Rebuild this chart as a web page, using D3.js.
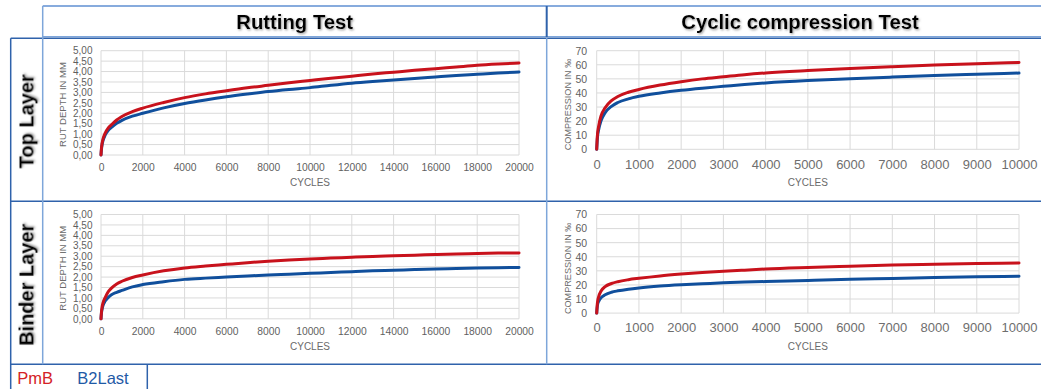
<!DOCTYPE html>
<html>
<head>
<meta charset="utf-8">
<script src="https://cdn.jsdelivr.net/npm/d3@7"></script>
<style>
  body { margin: 0; background: #fff; }
  svg { display: block; }
  text { font-family: "Liberation Sans", Arial, sans-serif; }
</style>
</head>
<body>
<svg id="chart" width="1041" height="389"></svg>
<script>
// ---- data ---------------------------------------------------------------
const columnTitles = ["Rutting Test", "Cyclic compression Test"];
const rowTitles = ["Top Layer", "Binder Layer"];
const seriesNames = ["PmB", "B2Last"];

// rutting test: rut depth (mm) over load cycles
const rutCycles = [0, 20, 50, 100, 200, 350, 500, 750, 1000, 1500,
  2000, 3000, 4000, 5000, 6000, 7000, 8000, 9000, 10000, 11000,
  12000, 13000, 14000, 15000, 16000, 17000, 18000, 19000, 20000];
const rutTopPmB = [0, 0.30, 0.55, 0.78, 1.05, 1.30, 1.45, 1.68, 1.85, 2.08,
  2.25, 2.52, 2.75, 2.93, 3.08, 3.22, 3.34, 3.46, 3.57, 3.68,
  3.78, 3.88, 3.97, 4.06, 4.14, 4.22, 4.30, 4.36, 4.41];
const rutTopB2Last = [0, 0.25, 0.48, 0.70, 0.95, 1.18, 1.32, 1.52, 1.66, 1.86,
  2.00, 2.26, 2.47, 2.64, 2.79, 2.92, 3.04, 3.14, 3.23, 3.34,
  3.44, 3.52, 3.59, 3.67, 3.74, 3.81, 3.87, 3.93, 3.98];
const rutBinderPmB = [0, 0.30, 0.55, 0.78, 1.02, 1.30, 1.47, 1.67, 1.80, 1.98,
  2.10, 2.30, 2.44, 2.53, 2.61, 2.69, 2.76, 2.82, 2.87, 2.91,
  2.95, 2.99, 3.02, 3.05, 3.08, 3.11, 3.13, 3.15, 3.16];
const rutBinderB2Last = [0, 0.25, 0.45, 0.65, 0.85, 1.03, 1.15, 1.27, 1.36, 1.53,
  1.64, 1.78, 1.89, 1.95, 2.00, 2.05, 2.10, 2.14, 2.18, 2.22,
  2.26, 2.30, 2.33, 2.36, 2.39, 2.41, 2.43, 2.45, 2.46];

// cyclic compression test: compression (‰) over load cycles
const compCycles = [0, 10, 20, 50, 100, 200, 350, 500, 750, 1000, 1500,
  2000, 2500, 3000, 3500, 4000, 5000, 6000, 7000, 8000, 9000, 10000];
const compTopPmB = [0, 7, 11, 17, 23.5, 29.5, 34.5, 37.5, 40.5, 42.5, 45.6,
  48.0, 50.0, 51.5, 53.0, 54.2, 55.9, 57.3, 58.6, 59.8, 60.8, 61.6];
const compTopB2Last = [0, 5, 9, 14.5, 20, 26, 30.5, 33.2, 35.8, 37.6, 40.0,
  41.9, 43.4, 44.7, 46.0, 47.1, 48.8, 50.1, 51.3, 52.4, 53.3, 54.1];
const compBinderPmB = [0, 5, 8, 12, 15.5, 18.8, 21.0, 22.3, 23.7, 24.7, 26.4,
  27.7, 28.8, 29.7, 30.5, 31.3, 32.4, 33.3, 34.1, 34.7, 35.2, 35.6];
const compBinderB2Last = [0, 3.5, 6, 8.5, 10.8, 13.0, 14.8, 15.8, 17.0, 17.9, 19.2,
  20.1, 20.8, 21.5, 22.0, 22.4, 23.2, 24.0, 24.6, 25.2, 25.8, 26.2];

// axis ticks
const rutXTicks = [0, 2000, 4000, 6000, 8000, 10000, 12000, 14000, 16000, 18000, 20000];
const rutYTicks = [0, 0.5, 1, 1.5, 2, 2.5, 3, 3.5, 4, 4.5, 5];
const compXTicks = [0, 1000, 2000, 3000, 4000, 5000, 6000, 7000, 8000, 9000, 10000];
const compYTicks = [0, 10, 20, 30, 40, 50, 60, 70];

// ---- styling --------------------------------------------------------------
const colors = { PmB: "#c8121c", B2Last: "#104f9c" };
const tickColor = "#5f5f5f";
const gridColor = "#dadada";
const deLocale = d3.formatLocale({ decimal: ",", thousands: "", grouping: [3], currency: ["", "€"] });
const fmt2 = deLocale.format(".2f");

const svg = d3.select("#chart");

const defs = svg.append("defs");
const glow = defs.append("filter").attr("id", "headShadow")
  .attr("x", "-10%").attr("y", "-30%").attr("width", "120%").attr("height", "160%");
glow.append("feDropShadow").attr("dx", 1).attr("dy", 1.2)
  .attr("stdDeviation", 1.1).attr("flood-color", "#7a7a7a").attr("flood-opacity", 0.75);

// ---- table frame ----------------------------------------------------------
const rowTops = [37.5, 201.3];
const tableBottom = 364.3;
const colX = [42.7, 546.7];
const frame = svg.append("g").attr("fill", "none");
function seg(x1, y1, x2, y2, c, w) {
  frame.append("line").attr("x1", x1).attr("y1", y1).attr("x2", x2).attr("y2", y2)
    .attr("stroke", c).attr("stroke-width", w);
}
const dark = "#2f62ab", light = "#7ea6da";
seg(colX[0], 6, 1041, 6, "#5f8fd2", 1.5);
seg(colX[0], 36.6, 1041, 36.6, light, 1.2);
seg(10.7, 38.3, 1041, 38.3, dark, 1.5);
seg(10.7, rowTops[1], 1041, rowTops[1], dark, 1.5);
seg(10.7, tableBottom, 1041, tableBottom, dark, 1.5);
seg(10.7, 38.3, 10.7, 389, dark, 1.5);
seg(colX[0], 6, colX[0], tableBottom, light, 1.5);
seg(colX[1], 6, colX[1], 37, dark, 2);
seg(colX[1], 38, colX[1], tableBottom, light, 1.5);
seg(147.3, tableBottom, 147.3, 389, dark, 1.5);

// column headings
const headX = [294.7, 800];
columnTitles.forEach((t, i) => {
  svg.append("text").attr("x", headX[i]).attr("y", 28.5)
    .attr("text-anchor", "middle").attr("font-size", 20.3).attr("font-weight", "bold")
    .attr("fill", "#000").attr("filter", "url(#headShadow)").text(t);
});

// row headings
rowTitles.forEach((t, i) => {
  const cy = (rowTops[i] + (i === 0 ? rowTops[1] : tableBottom)) / 2 + 2;
  svg.append("text").attr("transform", `translate(33.5,${cy}) rotate(-90)`)
    .attr("text-anchor", "middle").attr("font-size", 20).attr("font-weight", "bold")
    .attr("fill", "#000").attr("filter", "url(#headShadow)").text(t);
});

// legend
svg.append("text").attr("x", 17.3).attr("y", 383.5).attr("font-size", 16.5)
  .attr("fill", "#d42226").text(seriesNames[0]);
svg.append("text").attr("x", 77.3).attr("y", 383.5).attr("font-size", 16.5)
  .attr("fill", "#1f5aa6").text(seriesNames[1]);

// ---- chart panels ---------------------------------------------------------
function drawPanel(o) {
  const g = svg.append("g");
  const x = d3.scaleLinear().domain([o.xTicks[0], o.xTicks[o.xTicks.length - 1]]).range(o.xRange);
  const y = d3.scaleLinear().domain([o.yTicks[0], o.yTicks[o.yTicks.length - 1]]).range(o.yRange);

  // gridlines
  g.append("g").selectAll("line").data(o.yTicks).join("line")
    .attr("x1", o.xRange[0]).attr("x2", o.xRange[1])
    .attr("y1", d => y(d)).attr("y2", d => y(d))
    .attr("stroke", gridColor).attr("stroke-width", 1);
  g.append("g").selectAll("line").data(o.xTicks).join("line")
    .attr("y1", o.yRange[0]).attr("y2", o.yRange[1])
    .attr("x1", d => x(d)).attr("x2", d => x(d))
    .attr("stroke", gridColor).attr("stroke-width", 1);

  // axes (labels only)
  const ax = g.append("g").attr("transform", `translate(0,${o.yRange[0]})`)
    .call(d3.axisBottom(x).tickValues(o.xTicks).tickSize(0).tickPadding(o.xPad).tickFormat(d3.format("d")));
  ax.select(".domain").remove();
  ax.selectAll("text").attr("font-size", o.xFont).attr("fill", o.xColor)
    .attr("font-family", "\"Liberation Sans\", Arial, sans-serif");

  const ay = g.append("g").attr("transform", `translate(${o.xRange[0]},0)`)
    .call(d3.axisLeft(y).tickValues(o.yTicks).tickSize(0).tickPadding(o.yPad).tickFormat(o.yFmt));
  ay.select(".domain").remove();
  ay.selectAll("text").attr("font-size", o.yFont).attr("fill", tickColor)
    .attr("font-family", "\"Liberation Sans\", Arial, sans-serif");

  // axis titles
  g.append("text").attr("x", (o.xRange[0] + o.xRange[1]) / 2).attr("y", o.top + 148.5)
    .attr("text-anchor", "middle").attr("font-size", 10).attr("fill", "#6a6a6a").text("CYCLES");
  g.append("text").attr("transform", `translate(${o.yTitleX},${o.top + 67}) rotate(-90)`)
    .attr("text-anchor", "middle").attr("font-size", o.yTitleFont).attr("fill", "#6a6a6a").text(o.yTitle);

  // series
  const line = d3.line().x(d => x(d[0])).y(d => y(d[1])).curve(d3.curveMonotoneX);
  o.series.forEach(s => {
    g.append("path").datum(o.cycles.map((c, i) => [c, s.values[i]]))
      .attr("d", line).attr("fill", "none").attr("stroke", colors[s.name])
      .attr("stroke-width", 3).attr("stroke-linejoin", "round").attr("stroke-linecap", "round");
  });
}

const panels = [
  { row: 0, kind: "rut", series: [{ name: "B2Last", values: rutTopB2Last }, { name: "PmB", values: rutTopPmB }] },
  { row: 0, kind: "comp", series: [{ name: "B2Last", values: compTopB2Last }, { name: "PmB", values: compTopPmB }] },
  { row: 1, kind: "rut", series: [{ name: "B2Last", values: rutBinderB2Last }, { name: "PmB", values: rutBinderPmB }] },
  { row: 1, kind: "comp", series: [{ name: "B2Last", values: compBinderB2Last }, { name: "PmB", values: compBinderPmB }] }
];

panels.forEach(p => {
  const top = rowTops[p.row];
  if (p.kind === "rut") {
    drawPanel({
      top, cycles: rutCycles, series: p.series,
      xTicks: rutXTicks, yTicks: rutYTicks,
      xRange: [101, 519], yRange: [top + 117.5, top + 13.2],
      xFont: 10.3, yFont: 10, xPad: 8.5, yPad: 8.5, yFmt: fmt2, xColor: tickColor,
      yTitle: "RUT DEPTH IN MM", yTitleX: 66, yTitleFont: 9.5
    });
  } else {
    drawPanel({
      top, cycles: compCycles, series: p.series,
      xTicks: compXTicks, yTicks: compYTicks,
      xRange: [596.7, 1019], yRange: [top + 111.8, top + 13.2],
      xFont: 13, yFont: 10.5, xPad: 10, yPad: 9.5, yFmt: d3.format("d"), xColor: "#6e6e6e",
      yTitle: "COMPRESSION IN ‰", yTitleX: 570.5, yTitleFont: 9.1
    });
  }
});
</script>
</body>
</html>
